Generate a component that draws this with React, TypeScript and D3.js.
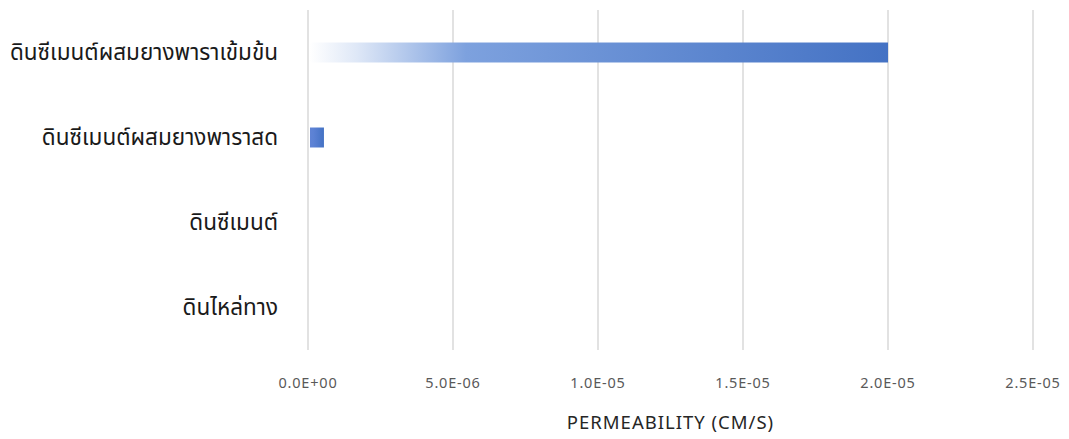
import React from "react";
import * as d3 from "d3";

const categories: string[] = [
  "ดินซีเมนต์ผสมยางพาราเข้มข้น",
  "ดินซีเมนต์ผสมยางพาราสด",
  "ดินซีเมนต์",
  "ดินไหล่ทาง",
];
const permeability: number[] = [2.0e-5, 5.5e-7, 1e-9, 1e-9];
const tickValues: number[] = [0, 5e-6, 1e-5, 1.5e-5, 2e-5, 2.5e-5];
const tickLabels: string[] = ["0.0E+00", "5.0E-06", "1.0E-05", "1.5E-05", "2.0E-05", "2.5E-05"];
const axisTitle = "PERMEABILITY (CM/S)";

const W = 1069;
const H = 439;
const left = 308;
const right = 1033;
const top = 10;
const bottom = 350;

export default function App() {
  const x = d3.scaleLinear().domain([0, 2.5e-5]).range([left, right]);
  const y = d3
    .scaleBand<string>()
    .domain(categories)
    .range([top, bottom])
    .paddingInner(0.765)
    .paddingOuter(0.3825);
  const fullW = x(2e-5) - x(0);
  const blue = "#4472C4";
  const gap = 2;
  return (
    <svg
      width={W}
      height={H}
      style={{ position: "absolute", left: 0, top: 0, background: "#fff" }}
      fontFamily="Tahoma, 'Noto Sans Thai', 'Noto Sans', 'DejaVu Sans', sans-serif"
    >
      <defs>
        {permeability.map((v, i) => {
          const w = x(v) - x(0);
          const frac = Math.min(1, w / fullW);
          const startCol = d3.interpolateRgb("#5a80d4", "#ffffff")(frac);
          const midCol = d3.interpolateRgb("#5a80d4", "#7da1de")(frac);
          return (
            <linearGradient key={i} id={`g${i}`} x1="0" y1="0" x2="1" y2="0">
              <stop offset="0" stopColor={startCol} />
              <stop offset="0.08" stopColor={d3.interpolateRgb(startCol, midCol)(0.25)} />
              <stop offset="0.27" stopColor={midCol} />
              <stop offset="1" stopColor={blue} />
            </linearGradient>
          );
        })}
      </defs>
      {tickValues.map((t, i) => (
        <line
          key={i}
          x1={x(t)}
          x2={x(t)}
          y1={top}
          y2={bottom}
          stroke="#D9D9D9"
          strokeWidth={1.5}
        />
      ))}
      {categories.map((c, i) => (
        <rect
          key={c}
          x={x(0) + gap}
          y={y(c)!}
          width={Math.max(0, x(permeability[i]) - x(0) - gap)}
          height={y.bandwidth()}
          fill={`url(#g${i})`}
        />
      ))}
      {categories.map((c) => (
        <text
          key={c}
          x={278}
          y={y(c)! + y.bandwidth() / 2}
          textAnchor="end"
          dominantBaseline="central"
          fontSize={22.5}
          fill="#1a1a1a"
        >
          {c}
        </text>
      ))}
      {tickValues.map((t, i) => (
        <text
          key={i}
          x={x(t)}
          y={388}
          textAnchor="middle"
          fontSize={14.5}
          letterSpacing={0.8}
          fill="#595959"
        >
          {tickLabels[i]}
        </text>
      ))}
      <text
        x={(left + right) / 2}
        y={429}
        textAnchor="middle"
        fontSize={18.5}
        letterSpacing={1}
        fill="#262626"
      >
        {axisTitle}
      </text>
    </svg>
  );
}
